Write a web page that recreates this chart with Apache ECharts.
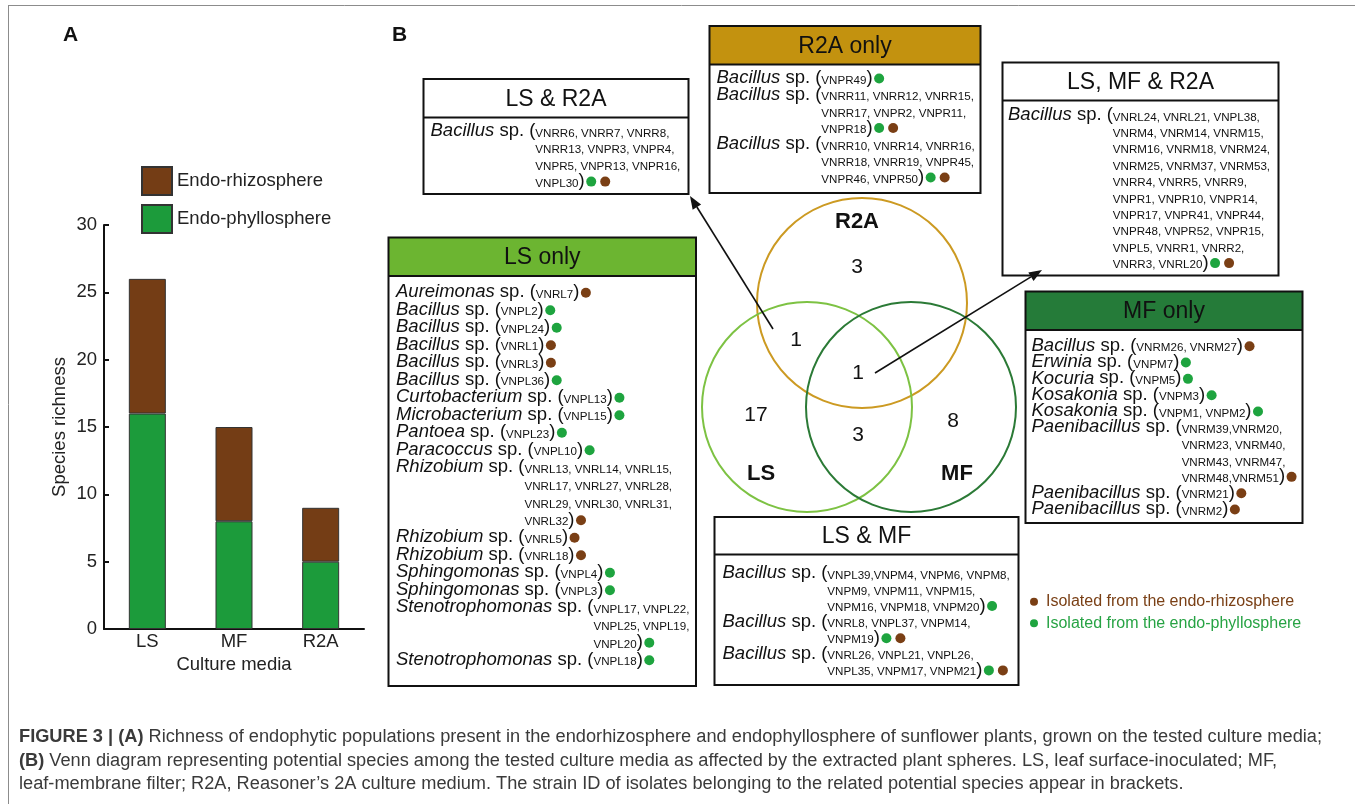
<!DOCTYPE html>
<html>
<head>
<meta charset="utf-8">
<script src="https://cdn.jsdelivr.net/npm/echarts@6/dist/echarts.min.js"></script>
<style>
  html, body { margin: 0; padding: 0; background: #fff; }
  #chart { width: 1355px; height: 804px; }
</style>
</head>
<body>
<div id="chart"></div>
<script>
// ---------- Panel A: species richness per culture medium ----------
const media = ['LS', 'MF', 'R2A'];
const phyllosphere = [16, 8, 5];
const rhizosphere = [10, 7, 4];
const seriesNames = ['Endo-phyllosphere', 'Endo-rhizosphere'];

// ---------- Panel B: Venn diagram ----------
const vennSets = ['R2A', 'LS', 'MF'];
const regionNames = ['R2A only', 'LS & R2A', 'LS, MF & R2A', 'LS only', 'MF only', 'LS & MF'];
const regionCounts = [3, 1, 1, 17, 8, 3];

// species entries: [genus, strain ID lines, isolated from (p = phyllosphere, r = rhizosphere)]
const lsR2A = [
  ['Bacillus', ['VNRR6, VNRR7, VNRR8,', 'VNRR13, VNPR3, VNPR4,', 'VNPR5, VNPR13, VNPR16,', 'VNPL30'], 'pr']
];
const r2aOnly = [
  ['Bacillus', ['VNPR49'], 'p'],
  ['Bacillus', ['VNRR11, VNRR12, VNRR15,', 'VNRR17, VNPR2, VNPR11,', 'VNPR18'], 'pr'],
  ['Bacillus', ['VNRR10, VNRR14, VNRR16,', 'VNRR18, VNRR19, VNPR45,', 'VNPR46, VNPR50'], 'pr']
];
const lsMfR2A = [
  ['Bacillus', ['VNRL24, VNRL21, VNPL38,', 'VNRM4, VNRM14, VNRM15,', 'VNRM16, VNRM18, VNRM24,',
                'VNRM25, VNRM37, VNRM53,', 'VNRR4, VNRR5, VNRR9,', 'VNPR1, VNPR10, VNPR14,',
                'VNPR17, VNPR41, VNPR44,', 'VNPR48, VNPR52, VNPR15,', 'VNPL5, VNRR1, VNRR2,',
                'VNRR3, VNRL20'], 'pr']
];
const lsOnly = [
  ['Aureimonas', ['VNRL7'], 'r'],
  ['Bacillus', ['VNPL2'], 'p'],
  ['Bacillus', ['VNPL24'], 'p'],
  ['Bacillus', ['VNRL1'], 'r'],
  ['Bacillus', ['VNRL3'], 'r'],
  ['Bacillus', ['VNPL36'], 'p'],
  ['Curtobacterium', ['VNPL13'], 'p'],
  ['Microbacterium', ['VNPL15'], 'p'],
  ['Pantoea', ['VNPL23'], 'p'],
  ['Paracoccus', ['VNPL10'], 'p'],
  ['Rhizobium', ['VNRL13, VNRL14, VNRL15,', 'VNRL17, VNRL27, VNRL28,', 'VNRL29, VNRL30, VNRL31,', 'VNRL32'], 'r'],
  ['Rhizobium', ['VNRL5'], 'r'],
  ['Rhizobium', ['VNRL18'], 'r'],
  ['Sphingomonas', ['VNPL4'], 'p'],
  ['Sphingomonas', ['VNPL3'], 'p'],
  ['Stenotrophomonas', ['VNPL17, VNPL22,', 'VNPL25, VNPL19,', 'VNPL20'], 'p'],
  ['Stenotrophomonas', ['VNPL18'], 'p']
];
const mfOnly = [
  ['Bacillus', ['VNRM26, VNRM27'], 'r'],
  ['Erwinia', ['VNPM7'], 'p'],
  ['Kocuria', ['VNPM5'], 'p'],
  ['Kosakonia', ['VNPM3'], 'p'],
  ['Kosakonia', ['VNPM1, VNPM2'], 'p'],
  ['Paenibacillus', ['VNRM39,VNRM20,', 'VNRM23, VNRM40,', 'VNRM43, VNRM47,', 'VNRM48,VNRM51'], 'r'],
  ['Paenibacillus', ['VNRM21'], 'r'],
  ['Paenibacillus', ['VNRM2'], 'r']
];
const lsMf = [
  ['Bacillus', ['VNPL39,VNPM4, VNPM6, VNPM8,', 'VNPM9, VNPM11, VNPM15,', 'VNPM16, VNPM18, VNPM20'], 'p'],
  ['Bacillus', ['VNRL8, VNPL37, VNPM14,', 'VNPM19'], 'pr'],
  ['Bacillus', ['VNRL26, VNPL21, VNPL26,', 'VNPL35, VNPM17, VNPM21'], 'pr']
];
const sourceLegend = [['r', 'Isolated from the endo-rhizosphere'], ['p', 'Isolated from the endo-phyllosphere']];

const captionLines = [
  [['FIGURE 3 | (A)', true], [' Richness of endophytic populations present in the endorhizosphere and endophyllosphere of sunflower plants, grown on the tested culture media;', false]],
  [['(B)', true], [' Venn diagram representing potential species among the tested culture media as affected by the extracted plant spheres. LS, leaf surface-inoculated; MF,', false]],
  [['leaf-membrane filter; R2A, Reasoner\u2019s 2A culture medium. The strain ID of isolates belonging to the related potential species appear in brackets.', false]]
];

// ---------- styling ----------
const FF = '"Liberation Sans", Arial, Helvetica, sans-serif';
const CAP_FF = '"Liberation Sans Narrow", "Liberation Sans", Arial, sans-serif';
const C_RHIZO = '#743d15';
const C_PHYLLO = '#1c9b3b';
const DOT = { r: '#7a3f15', p: '#1ea43f' };
const LEGEND_TXT = { r: '#7a4016', p: '#27a344' };
const SET_COLOR = { R2A: '#cc9a22', LS: '#7dc243', MF: '#2b7a36' };
const GENUS_SIZE = 18.5, ID_SIZE = 11.6;

const ctx = document.createElement('canvas').getContext('2d');
function textWidth(text, size, italic, bold, family) {
  ctx.font = (italic ? 'italic ' : '') + (bold ? 'bold ' : '') + size + 'px ' + (family || FF);
  return ctx.measureText(text).width;
}
function txt(x, y, text, o) {
  o = o || {};
  const align = o.align || 'left';
  return {
    type: 'text', x: x, y: y, silent: true, z: 10,
    style: {
      text: text, fontSize: o.size || GENUS_SIZE, fontFamily: o.family || FF,
      fontStyle: o.italic ? 'italic' : 'normal', fontWeight: o.bold ? 'bold' : 'normal',
      fill: o.fill || '#111', textAlign: align, align: align,
      textVerticalAlign: 'middle', verticalAlign: 'middle'
    }
  };
}

const graphics = [];

// figure frame
graphics.push({ type: 'line', silent: true, shape: { x1: 8.5, y1: 5, x2: 8.5, y2: 804 }, style: { stroke: '#8c8c8c', lineWidth: 1 } });
graphics.push({ type: 'line', silent: true, shape: { x1: 8, y1: 5.5, x2: 1355, y2: 5.5 }, style: { stroke: '#8c8c8c', lineWidth: 1 } });

// panel letters
graphics.push(txt(63, 35, 'A', { bold: true, size: 21 }));
graphics.push(txt(392, 35, 'B', { bold: true, size: 21 }));

// Venn circles
const circleLayout = { R2A: [862, 303], LS: [807, 407], MF: [911, 407] };
const R = 105;
vennSets.forEach(function (s) {
  graphics.push({ type: 'circle', silent: true, z: 2, shape: { cx: circleLayout[s][0], cy: circleLayout[s][1], r: R },
    style: { fill: 'none', stroke: SET_COLOR[s], lineWidth: 2 } });
});
const setLabelPos = { R2A: [857, 222], LS: [761, 474], MF: [957, 474] };
vennSets.forEach(function (s) {
  graphics.push(txt(setLabelPos[s][0], setLabelPos[s][1], s, { bold: true, size: 22, align: 'center' }));
});
const regionPos = [[857, 267], [796, 340], [858, 373], [756, 415], [953, 421], [858, 435]];
regionCounts.forEach(function (c, i) {
  graphics.push(txt(regionPos[i][0], regionPos[i][1], String(c), { size: 21, align: 'center' }));
});

// arrows from the Venn regions to their species lists
function arrow(x1, y1, x2, y2) {
  const a = Math.atan2(y2 - y1, x2 - x1), L = 13, W = 5;
  const bx = x2 - L * Math.cos(a), by = y2 - L * Math.sin(a);
  graphics.push({ type: 'line', silent: true, z: 5, shape: { x1: x1, y1: y1, x2: bx, y2: by }, style: { stroke: '#111', lineWidth: 1.6 } });
  graphics.push({ type: 'polygon', silent: true, z: 5, shape: { points: [
    [x2, y2], [bx + W * Math.sin(a), by - W * Math.cos(a)], [bx - W * Math.sin(a), by + W * Math.cos(a)]] },
    style: { fill: '#111' } });
}
arrow(773, 329, 690, 196);
arrow(875, 373, 1042, 270);

// species boxes
function speciesBox(title, entries, b) {
  graphics.push({ type: 'rect', silent: true, z: 3, shape: { x: b.x, y: b.y, width: b.w, height: b.h }, style: { fill: '#fff', stroke: 'none' } });
  graphics.push({ type: 'rect', silent: true, z: 3, shape: { x: b.x, y: b.y, width: b.w, height: b.hh }, style: { fill: b.fill || '#fff', stroke: 'none' } });
  graphics.push({ type: 'line', silent: true, z: 4, shape: { x1: b.x, y1: b.y + b.hh, x2: b.x + b.w, y2: b.y + b.hh }, style: { stroke: '#111', lineWidth: 2 } });
  graphics.push({ type: 'rect', silent: true, z: 4, shape: { x: b.x, y: b.y, width: b.w, height: b.h }, style: { fill: 'none', stroke: '#111', lineWidth: 2 } });
  graphics.push(txt(b.x + b.w / 2, b.y + b.hh / 2 + 1, title, { size: 23, align: 'center' }));

  const x0 = b.x + b.tx;
  const idShift = 0.3465 * (GENUS_SIZE - ID_SIZE);
  let line = 0;
  entries.forEach(function (e) {
    const genus = e[0], ids = e[1], src = e[2];
    const wg = textWidth(genus, GENUS_SIZE, true);
    const sp = ' sp. (';
    const wsp = textWidth(sp, GENUS_SIZE, false);
    const xi = x0 + wg + wsp;
    let y = b.ly + line * b.step;
    graphics.push(txt(x0, y, genus, { italic: true }));
    graphics.push(txt(x0 + wg, y, sp));
    ids.forEach(function (s, k) {
      y = b.ly + line * b.step;
      graphics.push(txt(xi, y + idShift, s, { size: ID_SIZE }));
      if (k === ids.length - 1) {
        const xp = xi + textWidth(s, ID_SIZE, false);
        graphics.push(txt(xp, y, ')'));
        let xd = xp + textWidth(')', GENUS_SIZE, false) + 6.5;
        src.split('').forEach(function (c) {
          graphics.push({ type: 'circle', silent: true, z: 10, shape: { cx: xd, cy: y + 0.5, r: 5 }, style: { fill: DOT[c] } });
          xd += 14;
        });
      }
      line++;
    });
  });
}
speciesBox('LS & R2A', lsR2A, { x: 423.5, y: 79, w: 265, h: 115, hh: 38.5, tx: 7, ly: 131, step: 16.7 });
speciesBox('R2A only', r2aOnly, { x: 709.5, y: 26, w: 271, h: 167, hh: 38.5, tx: 7, ly: 78, step: 16.5, fill: '#c3920f' });
speciesBox('LS, MF & R2A', lsMfR2A, { x: 1002.5, y: 62.5, w: 276, h: 213, hh: 38, tx: 5.5, ly: 115, step: 16.4 });
speciesBox('LS only', lsOnly, { x: 388.5, y: 237.5, w: 307.5, h: 448.5, hh: 38.5, tx: 7.5, ly: 292.3, step: 17.5, fill: '#6cb531' });
speciesBox('MF only', mfOnly, { x: 1025.5, y: 291.5, w: 277, h: 231.5, hh: 38.5, tx: 6, ly: 345.7, step: 16.33, fill: '#257b39' });
speciesBox('LS & MF', lsMf, { x: 714.5, y: 517, w: 304, h: 168, hh: 37.5, tx: 8, ly: 573.3, step: 16.1 });

// isolation source key
sourceLegend.forEach(function (d, i) {
  const y = 601.7 + i * 21.6;
  graphics.push({ type: 'circle', silent: true, shape: { cx: 1034, cy: y, r: 4 }, style: { fill: DOT[d[0]] } });
  graphics.push(txt(1046, y, d[1], { size: 16, fill: LEGEND_TXT[d[0]] }));
});

// caption, condensed horizontally to the figure width
(function () {
  const size = 18;
  const widthOf = function (segs) {
    return segs.reduce(function (w, s) { return w + textWidth(s[0], size, false, s[1], CAP_FF); }, 0);
  };
  const scale = (1322 - 19) / widthOf(captionLines[0]);
  const children = [];
  captionLines.forEach(function (segs, i) {
    let x = 0;
    const y = 737 + i * 23.7;
    segs.forEach(function (s) {
      children.push(txt(x, y, s[0], { size: size, bold: s[1], family: CAP_FF, fill: '#3a3a3a' }));
      x += textWidth(s[0], size, false, s[1], CAP_FF);
    });
  });
  graphics.push({ type: 'group', x: 19, y: 0, scaleX: scale, scaleY: 1, children: children });
})();

const chart = echarts.init(document.getElementById('chart'));
chart.setOption({
  animation: false,
  backgroundColor: '#fff',
  grid: { left: 104, top: 225, width: 260, height: 404, outerBoundsMode: 'none', containLabel: false },
  legend: {
    data: [seriesNames[1], seriesNames[0]],
    orient: 'vertical', left: 136, top: 161, itemWidth: 30, itemHeight: 28, itemGap: 8,
    icon: 'rect', selectedMode: false,
    textStyle: { fontSize: 18.5, color: '#222', fontFamily: FF, padding: [0, 0, 0, 0] }
  },
  xAxis: {
    type: 'category', data: media,
    name: 'Culture media', nameLocation: 'middle', nameGap: 23,
    nameTextStyle: { fontSize: 18.5, color: '#222', fontFamily: FF },
    axisLine: { show: true, lineStyle: { color: '#111', width: 2 } },
    axisTick: { show: false },
    axisLabel: { fontSize: 18.5, color: '#222', fontFamily: FF, margin: 3 }
  },
  yAxis: {
    type: 'value', min: 0, max: 30, interval: 5,
    name: 'Species richness', nameLocation: 'middle', nameGap: 35, nameRotate: 90,
    nameTextStyle: { fontSize: 18.5, color: '#222', fontFamily: FF },
    axisLine: { show: true, lineStyle: { color: '#111', width: 2 } },
    axisTick: { show: true, inside: true, length: 5, lineStyle: { color: '#111', width: 2 } },
    axisLabel: { fontSize: 18.5, color: '#222', fontFamily: FF, margin: 7 },
    splitLine: { show: false }
  },
  series: [
    { type: 'bar', name: seriesNames[0], stack: 'richness', data: phyllosphere, barWidth: 37,
      itemStyle: { color: C_PHYLLO, borderColor: '#333', borderWidth: 1 } },
    { type: 'bar', name: seriesNames[1], stack: 'richness', data: rhizosphere, barWidth: 37,
      itemStyle: { color: C_RHIZO, borderColor: '#333', borderWidth: 1 } }
  ],
  graphic: { elements: graphics }
});
</script>
</body>
</html>
